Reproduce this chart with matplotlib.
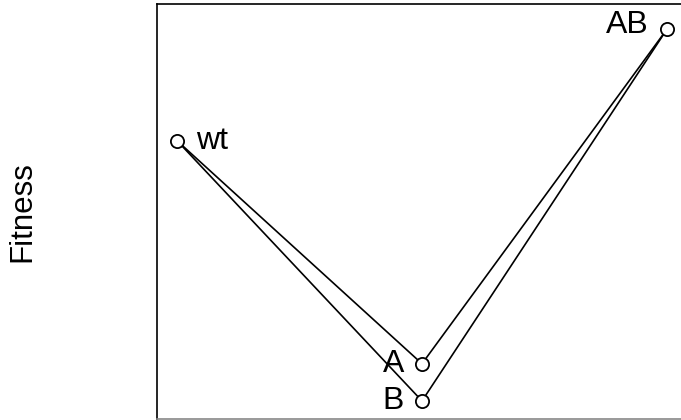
import matplotlib
matplotlib.use("Agg")
import matplotlib.pyplot as plt

plt.rcParams["font.family"] = ["Liberation Sans", "DejaVu Sans"]

# genotypes, number of mutations and fitness
genotypes = ["wt", "A", "B", "AB"]
n_mut = [0, 1, 1, 2]
fitness = [1.0, 0.4, 0.3, 1.3]
# two paths through the landscape
paths = [["wt", "A", "AB"], ["wt", "B", "AB"]]
label_side = {"wt": "right", "A": "left", "B": "left", "AB": "left"}
label_dy = {"wt": 0, "A": 0, "B": 0, "AB": 3}

W, H = 681, 420
fig = plt.figure(figsize=(W / 100, H / 100), dpi=100)
# box: left 157px, top 4px, right 687px (cut), bottom 419px
ax = fig.add_axes([157 / W, 1 - 419 / H, (687 - 157) / W, (419 - 4) / H])

pos = {g: (x, y) for g, x, y in zip(genotypes, n_mut, fitness)}
for p in paths:
    ax.plot([pos[g][0] for g in p], [pos[g][1] for g in p], color="black", lw=1.2, zorder=2)
ax.plot(n_mut, fitness, "o", ms=9.5, mfc="white", mec="black", mew=1.3, ls="none", zorder=3)

for g, x, y in zip(genotypes, n_mut, fitness):
    if label_side[g] == "right":
        ax.annotate(g, (x, y), xytext=(14, label_dy[g]), textcoords="offset points",
                    ha="left", va="center", fontsize=23)
    else:
        ax.annotate(g, (x, y), xytext=(-13, label_dy[g]), textcoords="offset points",
                    ha="right", va="center", fontsize=23)

ax.set_xlim(-0.0816, 2.0816)
ax.set_ylim(0.2514, 1.3676)
ax.set_xticks([])
ax.set_yticks([])
for s in ax.spines.values():
    s.set_linewidth(1.2)
ax.spines["bottom"].set_color("#888888")

fig.text(22 / W, 1 - 212 / H, "Fitness", rotation=90, ha="center", va="center", fontsize=22.5)

fig.savefig("out.png", dpi=100)
